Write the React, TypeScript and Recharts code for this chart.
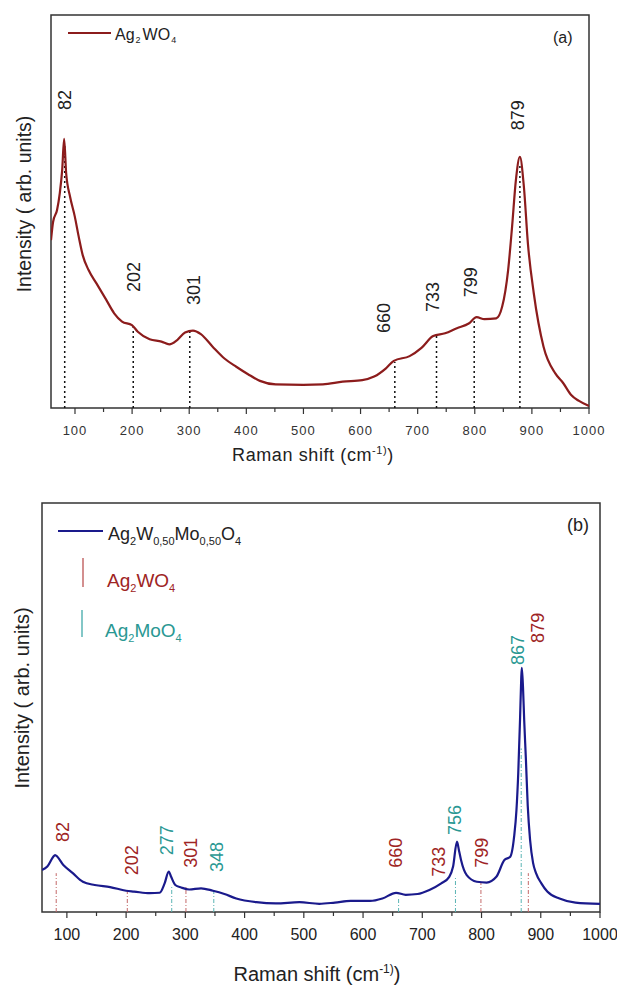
import React from 'react';
import { ComposedChart, Line, XAxis, YAxis, ReferenceLine, ReferenceArea, Scatter } from 'recharts';

const FONT = '"Liberation Sans", Arial, Helvetica, sans-serif';

// ---------- Panel (a): Ag2WO4 ----------
const aShift = [58, 61.7, 68.6, 73.4, 77.6, 81, 84.5, 91.3, 99.7, 106.5, 113.5, 123.8, 137.6, 154.8, 168.6, 182.4, 199.7, 210, 230.7, 251.4, 265.2, 279, 292.7, 306.6, 320.4, 341, 361.7, 382.4, 403, 423.8, 451.4, 499.5, 534, 568.7, 603, 623.8, 644.5, 658.3, 685.9, 706.7, 727.2, 748, 768.7, 789.4, 803.2, 817, 837.6, 848, 858.4, 865.3, 872, 879, 886, 893, 903.3, 920.4, 941, 955, 968.8, 982.5, 1000];
const aIntensity = [42.7, 47.4, 50.4, 54.7, 60.6, 68.5, 59.8, 53.8, 48.7, 43.6, 38.9, 35.1, 31.7, 27.5, 24.1, 22.0, 21.1, 19.4, 17.5, 16.9, 16.2, 17.3, 19.2, 19.7, 18.8, 15.6, 12.6, 10.5, 8.6, 6.9, 6.0, 5.9, 6.0, 6.7, 7.1, 8.0, 10.1, 12.0, 13.2, 15.3, 18.3, 19.0, 20.3, 21.5, 23.1, 22.6, 22.8, 25.8, 35.1, 46.1, 58, 63.9, 56.3, 41.9, 29.2, 15.6, 8.8, 6.3, 3.3, 1.8, 0.5];
const aPeaks = [82, 202, 301, 660, 733, 799, 879];
const aPeakTop = [67, 21, 19.8, 11.7, 18.6, 22.9, 62];
const aLabelX = [82.5, 203, 308.5, 641, 727, 793, 875.6];
const aLabelY = [75.8, 29.5, 26.2, 19.1, 24.4, 28.2, 70.7];

// ---------- Panel (b): Ag2W0.50Mo0.50O4 ----------
const bShift = [58, 67, 77, 80, 94, 110, 127, 147, 173, 200, 213.5, 240, 256.6, 265, 272, 276, 283, 293, 306.6, 326.5, 346.5, 366, 386, 420, 453, 492.6, 526, 552.5, 579, 612, 632.6, 655.7, 672, 692, 712, 732, 745.5, 752, 758.5, 762, 765.4, 775, 792, 808.6, 825, 838.6, 848.5, 855, 859, 862, 865, 867, 868, 870, 872, 875, 878, 882, 887, 892, 901, 911, 931.6, 958.6, 1000];
const bIntensity = [10.3, 11.1, 13.5, 13.9, 11.5, 9.5, 7.4, 6.6, 6.1, 5.2, 5.0, 4.6, 4.7, 7.0, 9.9, 8.6, 6.6, 6.0, 5.5, 5.8, 5.2, 4.4, 3.3, 2.4, 2.1, 2.4, 2.0, 2.3, 2.7, 2.7, 3.3, 4.7, 4.2, 4.4, 5.4, 7.0, 8.6, 11.1, 17.2, 15.0, 12.7, 9.0, 7.4, 7.2, 8.6, 12.7, 13.5, 18.4, 25, 34, 47, 57, 59.7, 55, 47, 37, 26, 17.6, 12, 9.5, 7.0, 5.0, 3.3, 2.3, 2.0];
const bPeaks = [82, 202, 277, 301, 348, 660, 756, 799, 867, 879];
const bPeakTop = [9.5, 5.4, 6.1, 6.1, 5.4, 3.7, 8.6, 7.1, 40, 9.5];
const bPeakPhase = ['W', 'W', 'Mo', 'W', 'Mo', 'Mo', 'Mo', 'W', 'Mo', 'W'];
const bLabels = [82, 202, 277, 301, 348, 660, 733, 756, 799, 867, 879];
const bLabelX = [93.8, 210, 269, 310, 353, 655.7, 729, 756, 801.5, 861.5, 895];
const bLabelY = [17.1, 9.0, 13.9, 10.8, 9.8, 10.8, 8.6, 18.8, 10.8, 60.4, 65.8];
const bLabelPhase = ['W', 'W', 'Mo', 'W', 'Mo', 'W', 'W', 'Mo', 'W', 'Mo', 'W'];

const xTicks = [100, 150, 200, 250, 300, 350, 400, 450, 500, 550, 600, 650, 700, 750, 800, 850, 900, 950, 1000];

const RED_A = '#8c1c1c';
const NAVY = '#1a1a8c';
const LBL_RED = '#9e2424';
const LBL_TEAL = '#2a9893';
const MK_RED = '#c46a6a';
const MK_TEAL = '#5ab4b4';

const aData = aShift.map((x, i) => ({ x, y: aIntensity[i] }));
const bData = bShift.map((x, i) => ({ x, y: bIntensity[i] }));
const aLabelData = aPeaks.map((p, i) => ({ x: aLabelX[i], y: aLabelY[i], label: String(p) }));
const bLabelData = bLabels.map((p, i) => ({ x: bLabelX[i], y: bLabelY[i], label: String(p), phase: bLabelPhase[i] }));

const TickA = (props: any) => {
  const { x, y, payload } = props;
  const v = payload.value;
  const major = v % 100 === 0;
  return (
    <g>
      <line x1={x} x2={x} y1={y} y2={y + (major ? 6 : 4)} stroke="#333" strokeWidth={1.2} />
      {major && (
        <text x={x} y={y + 27} textAnchor="middle" fontSize={13} letterSpacing={1} fill="#333" fontFamily={FONT}>
          {v}
        </text>
      )}
    </g>
  );
};

const TickB = (props: any) => {
  const { x, y, payload } = props;
  const v = payload.value;
  const major = v % 100 === 0;
  return (
    <g>
      <line x1={x} x2={x} y1={y} y2={y + (major ? 6 : 4)} stroke="#333" strokeWidth={1.2} />
      {major && (
        <text x={x} y={y + 28} textAnchor="middle" fontSize={16} fill="#222" fontFamily={FONT}>
          {v}
        </text>
      )}
    </g>
  );
};

const LabelA = (p: any) => (
  <text
    x={p.cx}
    y={p.cy}
    transform={`rotate(-90 ${p.cx} ${p.cy})`}
    textAnchor="start"
    dominantBaseline="central"
    fontSize={18}
    fill="#222"
    fontFamily={FONT}
  >
    {p.payload.label}
  </text>
);

const LabelB = (p: any) => (
  <text
    x={p.cx}
    y={p.cy}
    transform={`rotate(-90 ${p.cx} ${p.cy})`}
    textAnchor="start"
    dominantBaseline="central"
    fontSize={18}
    fill={p.payload.phase === 'W' ? LBL_RED : LBL_TEAL}
    fontFamily={FONT}
  >
    {p.payload.label}
  </text>
);

const DecorA = () => (
  <g fontFamily={FONT}>
    <text x={313} y={461} textAnchor="middle" fontSize={18} letterSpacing={0.6} fill="#222">
      Raman shift (cm
      <tspan fontSize={11} dy={-7}>-1)</tspan>
      <tspan fontSize={18} dy={7}>)</tspan>
    </text>
    <text transform="translate(24,204) rotate(-90)" textAnchor="middle" dominantBaseline="central" fontSize={19.5} fill="#222">
      Intensity ( arb. units)
    </text>
    <line x1={68} x2={111} y1={33} y2={33} stroke={RED_A} strokeWidth={2} />
    <text x={115} y={40} fontSize={16} fill="#222">
      Ag
      <tspan fontSize={9} dy={3} dx={1}>2</tspan>
      <tspan fontSize={16} dy={-3} dx={2}>WO</tspan>
      <tspan fontSize={9} dy={3} dx={1}>4</tspan>
    </text>
    <text x={553} y={43} fontSize={16} fill="#222">(a)</text>
  </g>
);

const DecorB = () => (
  <g fontFamily={FONT}>
    <text x={317} y={501} textAnchor="middle" fontSize={20} fill="#222">
      Raman shift (cm
      <tspan fontSize={12} dy={-8}>-1)</tspan>
      <tspan fontSize={20} dy={8}>)</tspan>
    </text>
    <text transform="translate(22,218) rotate(-90)" textAnchor="middle" dominantBaseline="central" fontSize={20} fill="#222">
      Intensity ( arb. units)
    </text>
    <line x1={58} x2={103} y1={51} y2={51} stroke={NAVY} strokeWidth={2} />
    <text x={108} y={60} fontSize={18} fill="#222">
      Ag
      <tspan fontSize={11} dy={5}>2</tspan>
      <tspan fontSize={18} dy={-5}>W</tspan>
      <tspan fontSize={11} dy={5}>0,50</tspan>
      <tspan fontSize={18} dy={-5}>Mo</tspan>
      <tspan fontSize={11} dy={5}>0,50</tspan>
      <tspan fontSize={18} dy={-5}>O</tspan>
      <tspan fontSize={11} dy={5}>4</tspan>
    </text>
    <line x1={83} x2={83} y1={78} y2={107} stroke={MK_RED} strokeWidth={1.5} />
    <text x={107} y={107} fontSize={19} fill={LBL_RED}>
      Ag
      <tspan fontSize={11} dy={5}>2</tspan>
      <tspan fontSize={19} dy={-5}>WO</tspan>
      <tspan fontSize={11} dy={5}>4</tspan>
    </text>
    <line x1={82} x2={82} y1={130} y2={157} stroke={MK_TEAL} strokeWidth={1.5} />
    <text x={105} y={157} fontSize={19} fill={LBL_TEAL}>
      Ag
      <tspan fontSize={11} dy={5}>2</tspan>
      <tspan fontSize={19} dy={-5}>MoO</tspan>
      <tspan fontSize={11} dy={5}>4</tspan>
    </text>
    <text x={567} y={51} fontSize={18} fill="#222">(b)</text>
  </g>
);

export default function App() {
  return (
    <div style={{ position: 'absolute', left: 0, top: 0, width: 617, height: 986, background: '#fff' }}>
      <div style={{ position: 'absolute', left: 0, top: 0 }}>
        <ComposedChart width={617} height={480} margin={{ top: 15, right: 28, left: 51, bottom: 0 }}>
          <XAxis
            dataKey="x"
            type="number"
            domain={[58, 1000]}
            ticks={xTicks}
            interval={0}
            tick={TickA}
            tickLine={false}
            axisLine={false}
            tickSize={0}
            tickMargin={0}
            height={72}
            allowDataOverflow
            label={DecorA}
          />
          <YAxis type="number" domain={[0, 100]} hide allowDataOverflow />
          <ReferenceArea x1={58} x2={1000} y1={0} y2={100} fill="none" stroke="#333" strokeWidth={1.5} ifOverflow="visible" />
          {aPeaks.map((p, i) => (
            <ReferenceLine
              key={'a' + p}
              segment={[{ x: p, y: 0 }, { x: p, y: aPeakTop[i] }]}
              stroke="#111"
              strokeWidth={1.5}
              strokeDasharray="2 3"
              ifOverflow="visible"
            />
          ))}
          <Line data={aData} dataKey="y" type="monotone" stroke={RED_A} strokeWidth={2.2} dot={false} isAnimationActive={false} />
          <Scatter data={aLabelData} dataKey="y" shape={LabelA} isAnimationActive={false} />
        </ComposedChart>
      </div>
      <div style={{ position: 'absolute', left: 0, top: 480 }}>
        <ComposedChart width={617} height={506} margin={{ top: 23, right: 17, left: 42, bottom: 0 }}>
          <XAxis
            dataKey="x"
            type="number"
            domain={[58, 1000]}
            ticks={xTicks}
            interval={0}
            tick={TickB}
            tickLine={false}
            axisLine={false}
            tickSize={0}
            tickMargin={0}
            height={74}
            allowDataOverflow
            label={DecorB}
          />
          <YAxis type="number" domain={[0, 100]} hide allowDataOverflow />
          <ReferenceArea x1={58} x2={1000} y1={0} y2={100} fill="none" stroke="#333" strokeWidth={1.5} ifOverflow="visible" />
          {bPeaks.map((p, i) => (
            <ReferenceLine
              key={'b' + p}
              segment={[{ x: p, y: 0 }, { x: p, y: bPeakTop[i] }]}
              stroke={bPeakPhase[i] === 'W' ? MK_RED : MK_TEAL}
              strokeWidth={1}
              strokeDasharray="4 2 1 2"
              ifOverflow="visible"
            />
          ))}
          <Line data={bData} dataKey="y" type="monotone" stroke={NAVY} strokeWidth={2.2} dot={false} isAnimationActive={false} />
          <Scatter data={bLabelData} dataKey="y" shape={LabelB} isAnimationActive={false} />
        </ComposedChart>
      </div>
    </div>
  );
}
